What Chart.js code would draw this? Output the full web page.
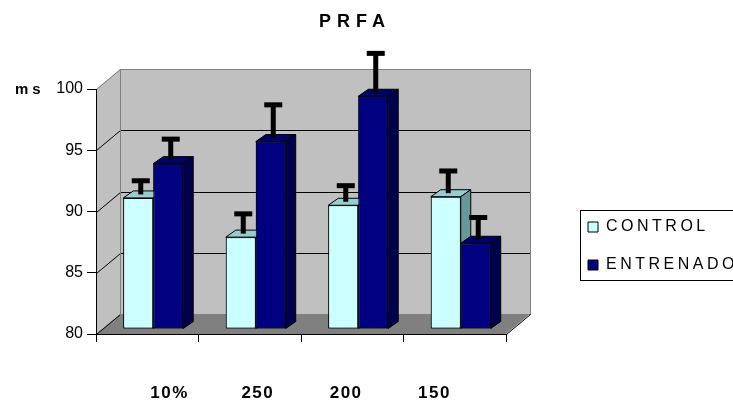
<!DOCTYPE html>
<html>
<head>
<meta charset="utf-8">
<script src="https://cdn.jsdelivr.net/npm/chart.js@4.4.1/dist/chart.umd.min.js"></script>
<style>
  html, body { margin: 0; padding: 0; background: #fff; overflow: hidden; }
  #wrap { width: 733px; height: 407px; position: relative; }
</style>
</head>
<body>
<div id="wrap"><canvas id="c"></canvas></div>
<script>
// ---- data ----
const categories = ['10%', '250', '200', '150'];
const seriesNames = ['CONTROL', 'ENTRENADO'];
const controlValues = [90.7, 87.5, 90.1, 90.8];
const entrenadoValues = [93.5, 95.3, 99.0, 87.0];
const controlErrors = [1.4, 1.9, 1.6, 2.1];
const entrenadoErrors = [2.0, 3.0, 3.5, 2.1];
const yTicks = [80, 85, 90, 95, 100];
const chartTitle = 'PRFA';
const yUnit = 'ms';

const seriesValues = [controlValues, entrenadoValues];
const seriesErrors = [controlErrors, entrenadoErrors];

// ---- 3D look ----
const DEPTH = { x: 24, y: -20 };      // wall depth
const BAR_SHIFT = { x: 6, y: -5 };    // bars sit slightly behind the front plane
const BAR_DEPTH = { x: 10, y: -7 };   // depth of each bar
const FRONT = ['#CCFFFF', '#000080'];
const TOP = ['#99CCCC', '#000066'];
const SIDE = ['#669999', '#00004D'];

Chart.defaults.font.family = "'Liberation Sans', Arial, sans-serif";
Chart.defaults.color = '#000';

// letter spacing support for the wide-spaced texts
function withSpacing(proto, name, fn) {
  if (!proto || !proto[name]) return;
  const orig = proto[name];
  proto[name] = function (...args) {
    const ctx = this.ctx;
    const prev = ctx.letterSpacing;
    ctx.letterSpacing = fn(this);
    try { return orig.apply(this, args); } finally { ctx.letterSpacing = prev; }
  };
}
withSpacing(Chart.Title && Chart.Title._element && Chart.Title._element.prototype, 'draw', () => '6px');
withSpacing(Chart.Legend && Chart.Legend._element && Chart.Legend._element.prototype, 'draw', () => '3.5px');
withSpacing(Chart.Scale.prototype, 'drawLabels', s => s.id === 'xl' ? '1.5px' : '0px');

function poly(ctx, pts) {
  ctx.beginPath();
  pts.forEach((p, i) => i ? ctx.lineTo(p[0], p[1]) : ctx.moveTo(p[0], p[1]));
  ctx.closePath();
}

const box3d = {
  id: 'box3d',
  afterLayout(chart) {
    const lg = chart.legend;
    if (lg) { lg.left = 566; lg.right = 900; lg.width = 334; lg.top = 197; lg.bottom = 407; lg.height = 210; }
    const tb = chart.titleBlock;
    if (tb) { tb.left = 155; tb.right = 555; tb.width = 400; }
  },
  beforeDraw(chart) {
    const { ctx, chartArea: a } = chart;
    const y = chart.scales.y;
    const L = Math.round(a.left), R = Math.round(a.right), T = Math.round(a.top), B = Math.round(a.bottom);
    const dx = DEPTH.x, dy = DEPTH.y;
    ctx.save();
    ctx.fillStyle = '#fff';
    ctx.fillRect(0, 0, chart.width, chart.height);
    ctx.fillStyle = '#C0C0C0';
    ctx.fillRect(L + dx, T + dy, R - L, B - T);
    poly(ctx, [[L, T], [L + dx, T + dy], [L + dx, B + dy], [L, B]]);
    ctx.fill();
    ctx.fillStyle = '#808080';
    poly(ctx, [[L, B], [L + dx, B + dy], [R + dx, B + dy], [R, B]]);
    ctx.fill();
    ctx.lineWidth = 1;
    y.ticks.forEach(t => {
      const py = Math.round(y.getPixelForValue(t.value)) + 0.5;
      ctx.strokeStyle = t.value === y.max ? '#808080' : '#000';
      ctx.beginPath();
      ctx.moveTo(L + 0.5, py);
      ctx.lineTo(L + dx + 0.5, py + dy);
      ctx.lineTo(R + dx + 0.5, py + dy);
      ctx.stroke();
    });
    ctx.strokeStyle = '#808080';
    ctx.strokeRect(L + dx + 0.5, T + dy + 0.5, R - L, B - T);
    ctx.strokeStyle = '#000';
    ctx.beginPath();
    ctx.moveTo(R + 0.5, B + 0.5);
    ctx.lineTo(R + dx + 0.5, B + dy + 0.5);
    ctx.stroke();
    ctx.restore();
  },
  beforeDatasetsDraw(chart) {
    chart.ctx.save();
    chart.ctx.translate(BAR_SHIFT.x, BAR_SHIFT.y);
  },
  afterDatasetsDraw(chart) {
    const { ctx } = chart;
    const yScale = chart.scales.y;
    const bx = BAR_DEPTH.x, by = BAR_DEPTH.y;
    const metas = chart.data.datasets.map((_, d) => chart.getDatasetMeta(d));
    categories.forEach((_, i) => {
      metas.forEach((meta, d) => {
        const bar = meta.data[i];
        if (!bar) return;
        bar.draw(ctx);           // front face, drawn left-to-right so sides overlap correctly
        const { x, y, base, width } = bar.getProps(['x', 'y', 'base', 'width'], true);
        const l = x - width / 2, r = x + width / 2;
        ctx.lineWidth = 1;
        ctx.strokeStyle = '#000';
        ctx.fillStyle = TOP[d];
        poly(ctx, [[l, y], [l + bx, y + by], [r + bx, y + by], [r, y]]);
        ctx.fill(); ctx.stroke();
        ctx.fillStyle = SIDE[d];
        poly(ctx, [[r, y], [r + bx, y + by], [r + bx, base + by], [r, base]]);
        ctx.fill(); ctx.stroke();
        const v = seriesValues[d][i], e = seriesErrors[d][i];
        const yEnd = yScale.getPixelForValue(v + e);
        const cx = x + 2.5;
        const yStart = y + by / 2;
        ctx.fillStyle = '#000';
        ctx.fillRect(cx - 2.5, yEnd, 5, yStart - yEnd);
        ctx.fillRect(cx - 9, yEnd - 2.5, 18, 5);
      });
    });
    ctx.restore();
  },
  afterDraw(chart) {
    const { ctx } = chart;
    const y = chart.scales.y;
    ctx.save();
    const lg = chart.legend;
    ctx.strokeStyle = '#000';
    ctx.lineWidth = 1;
    ctx.strokeRect(Math.round(lg.left + 14) + 0.5, Math.round(lg.top + 13) + 0.5, 300, 70);
    ctx.fillStyle = '#000';
    ctx.font = "bold 15px 'Liberation Sans', Arial, sans-serif";
    ctx.letterSpacing = '4px';
    ctx.textBaseline = 'middle';
    ctx.textAlign = 'left';
    ctx.fillText(yUnit, 15, y.getPixelForValue(y.max) + 1);
    ctx.restore();
  }
};

new Chart(document.getElementById('c'), {
  type: 'bar',
  data: {
    labels: categories,
    datasets: [
      {
        label: seriesNames[0], data: controlValues, base: yTicks[0],
        backgroundColor: FRONT[0], borderColor: '#000', borderWidth: 1, borderSkipped: false,
        categoryPercentage: 0.585, barPercentage: 1, clip: false
      },
      {
        label: seriesNames[1], data: entrenadoValues, base: yTicks[0],
        backgroundColor: FRONT[1], borderColor: '#000', borderWidth: 1, borderSkipped: false,
        categoryPercentage: 0.585, barPercentage: 1, clip: false
      }
    ]
  },
  options: {
    responsive: true,
    maintainAspectRatio: false,
    animation: false,
    events: [],
    layout: { padding: { left: 56, right: 167, top: 0, bottom: 0 } },
    plugins: {
      title: {
        display: true, text: chartTitle, color: '#000',
        font: { size: 18, weight: 'bold' },
        padding: { top: 11, bottom: 56.4 }
      },
      legend: {
        display: true, position: 'right', align: 'start', maxWidth: 60,
        labels: {
          boxWidth: 10, boxHeight: 10, padding: 22, color: '#000',
          font: { size: 16 },
          sort: (a, b) => a.datasetIndex - b.datasetIndex
        }
      },
      tooltip: { enabled: false }
    },
    scales: {
      x: {
        type: 'category', offset: true,
        grid: { display: true, offset: true, drawOnChartArea: false, drawTicks: true, tickLength: 8, color: '#000' },
        border: { display: true, color: '#000' },
        ticks: { display: false },
        afterFit: s => { s.height = 8; }
      },
      y: {
        min: yTicks[0], max: yTicks[yTicks.length - 1],
        ticks: { stepSize: yTicks[1] - yTicks[0], color: '#000', font: { size: 16 }, padding: 4 },
        grid: { drawOnChartArea: false, drawTicks: true, tickLength: 9, color: '#000' },
        border: { display: true, color: '#000' },
        afterFit: s => { s.width = 40; }
      },
      xl: {
        type: 'linear', position: 'bottom', offset: false,
        min: -0.832, max: 3.81,
        grid: { display: false, drawTicks: false, offset: false },
        border: { display: false },
        ticks: {
          autoSkip: false, maxRotation: 0, color: '#000', padding: 41,
          font: { size: 17, weight: 'bold' },
          callback: v => categories[v] !== undefined ? categories[v] : ''
        },
        afterBuildTicks: s => { s.ticks = categories.map((_, i) => ({ value: i })); },
        afterFit: s => { s.height = 65; }
      }
    }
  },
  plugins: [box3d]
});
</script>
</body>
</html>
